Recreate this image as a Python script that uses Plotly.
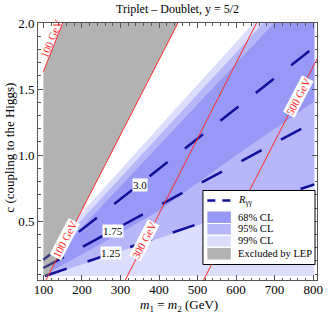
import plotly.graph_objects as go

# ---------------- data ----------------
x_range = [86, 810]
y_range = [0.055, 2.0005]
x_ticks = [100, 200, 300, 400, 500, 600, 700, 800]
y_ticks = [0.5, 1.0, 1.5, 2.0]
y_ticklabels = ["0.5", "1.0", "1.5", "2.0"]

# R_gamma-gamma contour lines (straight): endpoints (m, c)
r30_m = [100, 803]
r30_c = [0.209, 1.819]
r175_m = [100, 803]
r175_c = [0.146, 1.253]
r125_m = [104, 803]
r125_c = [0.085, 0.779]

# confidence-level regions (polygons in m, c)
cl99_m = [112, 192.3, 370.6, 645, 803, 803, 112]
cl99_c = [0.085, 0.5413, 1.116, 2.0, 2.0, 0.085, 0.085]
cl95_m = [112.5, 171.4, 391, 671, 803, 803, 112.5]
cl95_c = [0.0879, 0.4226, 1.116, 2.0, 2.0, 0.769, 0.0879]
cl68_m = [117.9, 148.9, 413.8, 699, 803, 803, 600, 400, 250, 150, 117.9]
cl68_c = [0.1186, 0.2949, 1.116, 2.0, 2.0, 1.407, 1.0, 0.58, 0.33, 0.17, 0.1186]

# LEP excluded region
lep_m = [100, 100, 150, 449, 112, 100]
lep_c = [0.085, 1.633, 2.0, 2.0, 0.085, 0.085]

# constant-mass lines
m100_m = [106.7, 449]
m100_c = [0.055, 2.0]
m100b_m = [100, 150]
m100b_c = [1.633, 2.0]
m300_m = [312.6, 653]
m300_c = [0.055, 2.0]
m500_m = [515.7, 858]
m500_c = [0.055, 2.0]

# ---------------- styling ----------------
SERIF = "Liberation Serif, Times New Roman, serif"
C68 = "#9898f6"
C95 = "#b6b6f9"
C99 = "#dcdcfc"
NAVY = "#10109a"
RED = "#ff2a2a"
FRAME = "#555555"

fig = go.Figure()

def poly(m, c, color):
    fig.add_trace(go.Scatter(x=m, y=c, mode="lines", fill="toself",
                             fillcolor=color, line=dict(width=0, color=color),
                             hoverinfo="skip", showlegend=False))

poly(cl99_m, cl99_c, C99)
poly(cl95_m, cl95_c, C95)
poly(cl68_m, cl68_c, C68)

for mm, cc in [(r30_m, r30_c), (r175_m, r175_c), (r125_m, r125_c)]:
    fig.add_trace(go.Scatter(x=mm, y=cc, mode="lines",
                             line=dict(color=NAVY, width=2.5, dash="23px,22px"),
                             hoverinfo="skip", showlegend=False))

# semi-transparent gray LEP region on top of the contour lines
poly(lep_m, lep_c, "rgba(101,101,101,0.5)")

for mm, cc in [(m100_m, m100_c), (m100b_m, m100b_c), (m300_m, m300_c), (m500_m, m500_c)]:
    fig.add_trace(go.Scatter(x=mm, y=cc, mode="lines",
                             line=dict(color=RED, width=1),
                             hoverinfo="skip", showlegend=False))

ann = []
# contour labels
for txt, xx, yy in [("3.0", 349.5, 0.775), ("1.75", 281.7, 0.429), ("1.25", 275.8, 0.258)]:
    ann.append(dict(x=xx, y=yy, xref="x", yref="y", text=txt, showarrow=False,
                    font=dict(family=SERIF, size=11, color="black"),
                    bgcolor="white", borderpad=0))
# mass line labels
for txt, xx, yy, ang, bg in [("100 GeV", 156.4, 0.364, -62.3, "white"),
                             ("300 GeV", 362, 0.358, -62.3, "white"),
                             ("500 GeV", 760, 1.444, -62.3, "white"),
                             ("100 GeV", 119.5, 1.881, -67.9, "rgba(0,0,0,0)")]:
    ann.append(dict(x=xx, y=yy, xref="x", yref="y", text=txt, showarrow=False,
                    textangle=ang, font=dict(family=SERIF, size=11, color=RED),
                    bgcolor=bg, borderpad=0))

# pixel -> paper helpers for layout items
PL, PR, PT, PB = 38, 323, 23, 280
def xp(px):
    return (px - PL) / (PR - PL)
def yp(py):
    return (PB - py) / (PB - PT)

# axis titles
ann.append(dict(x=xp(182), y=yp(305.5), xref="paper", yref="paper",
                text="<i>m</i><sub>1</sub> = <i>m</i><sub>2</sub> (GeV)", showarrow=False,
                font=dict(family=SERIF, size=13, color="black"),
                xanchor="center", yanchor="middle"))
ann.append(dict(x=xp(8), y=yp(148), xref="paper", yref="paper",
                text="c (coupling to the Higgs)", showarrow=False, textangle=-90,
                font=dict(family=SERIF, size=13, color="black"),
                xanchor="center", yanchor="middle"))

# custom legend
shapes = []
shapes.append(dict(type="rect", xref="paper", yref="paper",
                   x0=xp(206.5), x1=xp(321), y0=yp(264.5), y1=yp(190.5),
                   line=dict(color="black", width=1), fillcolor="white", layer="above"))
shapes.append(dict(type="line", xref="paper", yref="paper",
                   x0=xp(211), x1=xp(235), y0=yp(200.5), y1=yp(200.5),
                   line=dict(color=NAVY, width=2.5, dash="8px,7px"), layer="above"))
sw = [(C68, 211.5, 223), (C95, 224, 234.5), (C99, 236, 246.5), ("#b2b2b2", 248, 259.5)]
for col, t, b in sw:
    shapes.append(dict(type="rect", xref="paper", yref="paper",
                       x0=xp(211), x1=xp(235), y0=yp(b), y1=yp(t),
                       line=dict(width=0), fillcolor=col, layer="above"))
leg_labels = [("<i>R</i><sub>γγ</sub>", 200), ("68% CL", 217), ("95% CL", 228.5),
              ("99% CL", 240), ("Excluded by LEP", 253.5)]
for txt, py in leg_labels:
    ann.append(dict(x=xp(240), y=yp(py), xref="paper", yref="paper", text=txt,
                    showarrow=False, xanchor="left", yanchor="middle",
                    font=dict(family=SERIF, size=10.5, color="black")))

axis_common = dict(showgrid=False, zeroline=False, showline=True, linecolor=FRAME,
                   linewidth=1, mirror="allticks", ticks="inside", ticklen=5,
                   tickcolor=FRAME, tickwidth=1,
                   tickfont=dict(family=SERIF, size=13, color="black"))

fig.update_layout(
    width=332, height=314,
    margin=dict(l=PL, r=332 - PR, t=PT, b=314 - PB),
    paper_bgcolor="white", plot_bgcolor="white",
    showlegend=False,
    title=dict(text="Triplet – Doublet, y = 5/2", x=0.5, xref="paper", xanchor="center",
               y=1 - 9 / 314, yref="container", yanchor="middle",
               font=dict(family=SERIF, size=12, color="black")),
    xaxis=dict(range=x_range, tickvals=x_ticks, ticklabelstandoff=-3,
               minor=dict(dtick=20, tick0=0, ticks="inside", ticklen=2.5, tickcolor=FRAME),
               **axis_common),
    yaxis=dict(range=y_range, tickvals=y_ticks, ticktext=y_ticklabels,
               minor=dict(dtick=0.1, tick0=0, ticks="inside", ticklen=2.5, tickcolor=FRAME),
               **axis_common),
    annotations=ann,
    shapes=shapes,
)

fig.write_html("out.html", config={"displayModeBar": False},
               post_script="document.body.style.margin='0';document.body.style.overflow='hidden';")
